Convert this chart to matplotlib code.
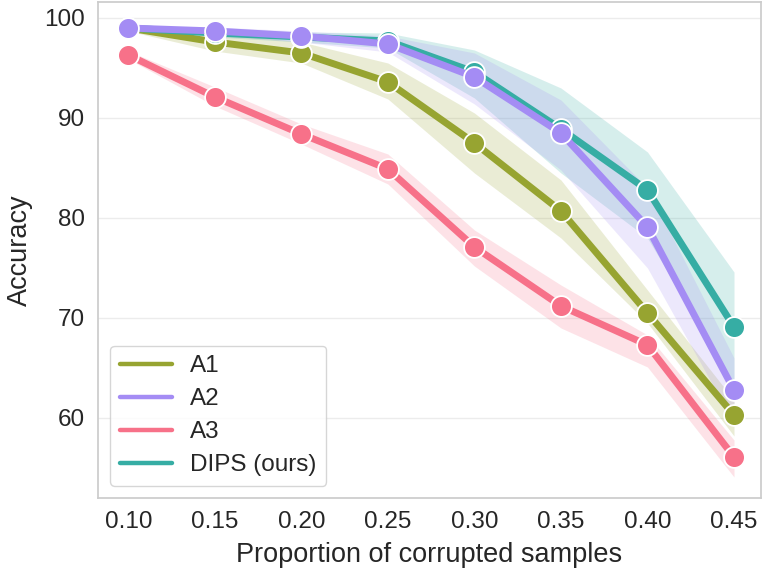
import matplotlib
matplotlib.use("Agg")
import matplotlib.pyplot as plt
import seaborn as sns

# proportion of corrupted samples
props = [0.10, 0.15, 0.20, 0.25, 0.30, 0.35, 0.40, 0.45]

# mean accuracy and band limits
a1 = [99.0, 97.6, 96.5, 93.6, 87.5, 80.7, 70.5, 60.3]
a1_lo = [98.7, 96.7, 95.5, 91.9, 84.5, 78.0, 69.5, 58.2]
a1_hi = [99.2, 98.5, 97.6, 95.5, 90.5, 83.8, 72.8, 61.8]

a2 = [99.0, 98.7, 98.2, 97.4, 94.1, 88.5, 79.1, 62.8]
a2_lo = [98.8, 98.3, 97.6, 96.6, 91.4, 84.8, 75.0, 59.5]
a2_hi = [99.2, 99.1, 98.7, 98.2, 96.5, 91.8, 83.0, 66.0]

a3 = [96.3, 92.1, 88.4, 84.9, 77.1, 71.2, 67.3, 56.1]
a3_lo = [95.9, 91.2, 87.4, 83.4, 75.2, 69.0, 65.1, 54.1]
a3_hi = [96.7, 93.1, 89.4, 86.4, 78.8, 73.3, 68.3, 57.8]

dips = [99.0, 98.5, 98.1, 97.7, 94.6, 88.9, 82.8, 69.1]
dips_lo = [98.8, 98.1, 97.6, 97.0, 92.0, 84.5, 78.0, 63.5]
dips_hi = [99.2, 99.0, 98.6, 98.5, 96.8, 93.0, 86.6, 74.6]

sns.set_theme(style="whitegrid")
plt.rcParams['font.family'] = ['Liberation Sans', 'DejaVu Sans']

pal = sns.color_palette("husl", 4)  # pink, olive, teal, purple
series = [
    ('A3', a3, a3_lo, a3_hi, pal[0]),
    ('A1', a1, a1_lo, a1_hi, pal[1]),
    ('DIPS (ours)', dips, dips_lo, dips_hi, pal[2]),
    ('A2', a2, a2_lo, a2_hi, pal[3]),
]

fig = plt.figure(figsize=(7.62, 5.71), dpi=100)
ax = fig.add_axes([98 / 762, 73 / 571, 663 / 762, 496 / 571])

handles = {}
for name, y, lo, hi, c in series:
    ax.fill_between(props, lo, hi, color=c, alpha=0.2, linewidth=0)
    ax.plot(props, y, color=c, lw=5, marker='o', markersize=15,
            markeredgecolor='white', markeredgewidth=1.3)
    handles[name] = plt.Line2D([], [], color=c, lw=3.2)

order = ['A1', 'A2', 'A3', 'DIPS (ours)']
ax.legend([handles[k] for k in order], order, loc='lower left',
          bbox_to_anchor=(0.0, 0.0), fontsize=17.5, handlelength=2.15,
          handletextpad=0.75, borderaxespad=0.5, labelspacing=0.45)

ax.set_xlim(0.0825, 0.4656)
ax.set_ylim(52, 101.6)
ax.set_xticks(props)
ax.set_xticklabels([f'{p:.2f}' for p in props])
ax.set_yticks([60, 70, 80, 90, 100])
ax.tick_params(labelsize=17.5, colors='.15')
ax.set_xlabel('Proportion of corrupted samples', fontsize=19.5, color='.15',
              labelpad=6)
ax.set_ylabel('Accuracy', fontsize=19.5, color='.15', labelpad=8)
ax.grid(False)
ax.grid(True, axis='y', color='#ececec', lw=1)

plt.savefig('out.png', dpi=100)
